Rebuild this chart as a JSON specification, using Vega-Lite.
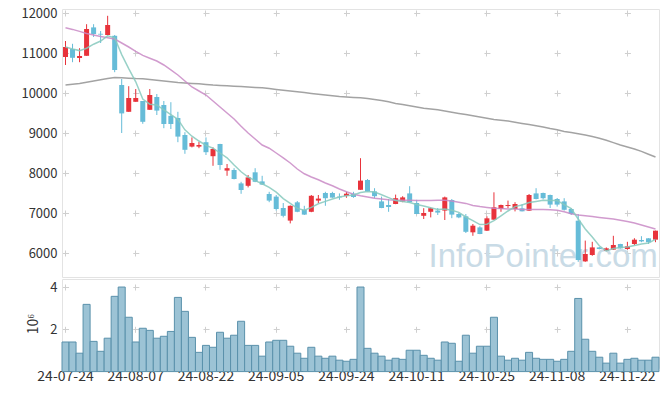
{
  "$schema": "https://vega.github.io/schema/vega-lite/v6.json",
  "padding": {"left": 5, "top": 6, "right": 7, "bottom": 5},
  "spacing": 0,
  "config": {
    "font": "Noto Sans CJK KR",
    "view": {"stroke": "#e3e3e3"},
    "axis": {"labelFont": "Noto Sans CJK KR", "labelColor": "#333333", "labelFontSize": 13, "domain": false, "ticks": false, "gridColor": "#cfcfcf", "gridWidth": 1}
  },
  "datasets": {
    "k": [
      {"d":"24-07-24","o":10900,"h":11300,"l":10700,"c":11150,"v":1.40,"m5":11150,"m20":11630,"m60":10200},
      {"d":"24-07-25","o":11100,"h":11230,"l":10770,"c":10880,"v":1.40,"m5":11100,"m20":11590,"m60":10220},
      {"d":"24-07-26","o":10875,"h":11120,"l":10770,"c":10925,"v":0.87,"m5":11060,"m20":11540,"m60":10240},
      {"d":"24-07-29","o":10930,"h":11720,"l":10930,"c":11600,"v":3.18,"m5":11120,"m20":11490,"m60":10270},
      {"d":"24-07-30","o":11640,"h":11720,"l":11400,"c":11475,"v":1.43,"m5":11220,"m20":11450,"m60":10300},
      {"d":"24-07-31","o":11480,"h":11550,"l":11250,"c":11460,"v":0.96,"m5":11300,"m20":11410,"m60":10330},
      {"d":"24-08-01","o":11450,"h":11930,"l":11440,"c":11700,"v":1.58,"m5":11430,"m20":11380,"m60":10360},
      {"d":"24-08-02","o":11430,"h":11450,"l":10520,"c":10575,"v":3.56,"m5":11380,"m20":11350,"m60":10390},
      {"d":"24-08-05","o":10200,"h":10350,"l":9000,"c":9490,"v":4.00,"m5":10960,"m20":11250,"m60":10380},
      {"d":"24-08-06","o":9530,"h":10170,"l":9530,"c":9875,"v":2.57,"m5":10610,"m20":11150,"m60":10370},
      {"d":"24-08-07","o":9780,"h":10100,"l":9780,"c":9875,"v":1.40,"m5":10280,"m20":11040,"m60":10360},
      {"d":"24-08-08","o":9800,"h":9800,"l":9230,"c":9280,"v":2.05,"m5":9850,"m20":10940,"m60":10355},
      {"d":"24-08-09","o":9580,"h":10100,"l":9580,"c":9950,"v":1.95,"m5":9720,"m20":10870,"m60":10340},
      {"d":"24-08-12","o":9900,"h":9975,"l":9450,"c":9560,"v":1.58,"m5":9700,"m20":10800,"m60":10320},
      {"d":"24-08-13","o":9700,"h":9800,"l":9120,"c":9225,"v":1.67,"m5":9580,"m20":10700,"m60":10300},
      {"d":"24-08-14","o":9430,"h":9770,"l":9100,"c":9225,"v":1.90,"m5":9460,"m20":10580,"m60":10280},
      {"d":"24-08-16","o":9375,"h":9530,"l":8770,"c":8910,"v":3.51,"m5":9340,"m20":10450,"m60":10260},
      {"d":"24-08-19","o":8950,"h":9020,"l":8480,"c":8580,"v":2.85,"m5":9080,"m20":10300,"m60":10250},
      {"d":"24-08-20","o":8660,"h":8890,"l":8640,"c":8750,"v":1.62,"m5":8920,"m20":10150,"m60":10240},
      {"d":"24-08-21","o":8660,"h":8780,"l":8620,"c":8700,"v":0.91,"m5":8800,"m20":10050,"m60":10230},
      {"d":"24-08-22","o":8770,"h":8890,"l":8450,"c":8520,"v":1.24,"m5":8690,"m20":9950,"m60":10215},
      {"d":"24-08-23","o":8420,"h":8640,"l":8180,"c":8600,"v":1.15,"m5":8620,"m20":9800,"m60":10200},
      {"d":"24-08-26","o":8725,"h":8730,"l":8080,"c":8200,"v":1.86,"m5":8500,"m20":9650,"m60":10190},
      {"d":"24-08-27","o":8060,"h":8225,"l":7930,"c":8120,"v":1.58,"m5":8380,"m20":9500,"m60":10180},
      {"d":"24-08-28","o":8075,"h":8120,"l":7840,"c":7850,"v":1.72,"m5":8200,"m20":9350,"m60":10170},
      {"d":"24-08-29","o":7740,"h":7780,"l":7480,"c":7575,"v":2.38,"m5":8030,"m20":9170,"m60":10160},
      {"d":"24-08-30","o":7680,"h":7950,"l":7640,"c":7890,"v":1.24,"m5":7900,"m20":9000,"m60":10150},
      {"d":"24-09-02","o":8017,"h":8120,"l":7770,"c":7780,"v":1.24,"m5":7810,"m20":8850,"m60":10140},
      {"d":"24-09-03","o":7790,"h":7930,"l":7700,"c":7710,"v":0.73,"m5":7730,"m20":8700,"m60":10130},
      {"d":"24-09-04","o":7475,"h":7530,"l":7270,"c":7310,"v":1.40,"m5":7640,"m20":8620,"m60":10110},
      {"d":"24-09-05","o":7410,"h":7450,"l":7060,"c":7100,"v":1.48,"m5":7520,"m20":8500,"m60":10090},
      {"d":"24-09-06","o":7125,"h":7250,"l":6890,"c":6930,"v":1.48,"m5":7360,"m20":8380,"m60":10070},
      {"d":"24-09-09","o":6810,"h":7190,"l":6740,"c":7180,"v":1.20,"m5":7240,"m20":8250,"m60":10050},
      {"d":"24-09-10","o":7267,"h":7300,"l":7020,"c":7030,"v":0.87,"m5":7115,"m20":8100,"m60":10030},
      {"d":"24-09-11","o":7080,"h":7180,"l":6950,"c":6960,"v":0.63,"m5":7070,"m20":7980,"m60":10010},
      {"d":"24-09-12","o":7030,"h":7450,"l":7020,"c":7430,"v":1.15,"m5":7140,"m20":7900,"m60":9990},
      {"d":"24-09-13","o":7310,"h":7450,"l":7250,"c":7360,"v":0.73,"m5":7230,"m20":7830,"m60":9970},
      {"d":"24-09-19","o":7500,"h":7530,"l":7180,"c":7370,"v":0.63,"m5":7290,"m20":7750,"m60":9950},
      {"d":"24-09-20","o":7500,"h":7530,"l":7380,"c":7385,"v":0.73,"m5":7350,"m20":7680,"m60":9930},
      {"d":"24-09-23","o":7410,"h":7490,"l":7330,"c":7390,"v":0.54,"m5":7400,"m20":7600,"m60":9910},
      {"d":"24-09-24","o":7425,"h":7530,"l":7380,"c":7483,"v":0.49,"m5":7430,"m20":7530,"m60":9900},
      {"d":"24-09-25","o":7483,"h":7530,"l":7380,"c":7400,"v":0.58,"m5":7450,"m20":7470,"m60":9890},
      {"d":"24-09-26","o":7580,"h":8370,"l":7580,"c":7810,"v":4.00,"m5":7510,"m20":7430,"m60":9880},
      {"d":"24-09-27","o":7825,"h":7850,"l":7540,"c":7540,"v":1.10,"m5":7540,"m20":7400,"m60":9860},
      {"d":"24-09-30","o":7540,"h":7620,"l":7375,"c":7420,"v":0.87,"m5":7525,"m20":7370,"m60":9840},
      {"d":"24-10-02","o":7290,"h":7410,"l":7120,"c":7125,"v":0.73,"m5":7455,"m20":7350,"m60":9810},
      {"d":"24-10-04","o":7200,"h":7350,"l":7030,"c":7150,"v":0.54,"m5":7385,"m20":7330,"m60":9780},
      {"d":"24-10-07","o":7225,"h":7460,"l":7220,"c":7370,"v":0.63,"m5":7315,"m20":7320,"m60":9740},
      {"d":"24-10-08","o":7285,"h":7420,"l":7270,"c":7390,"v":0.58,"m5":7285,"m20":7320,"m60":9710},
      {"d":"24-10-10","o":7490,"h":7670,"l":7260,"c":7270,"v":1.01,"m5":7260,"m20":7320,"m60":9680},
      {"d":"24-10-11","o":7250,"h":7330,"l":6970,"c":6975,"v":1.01,"m5":7215,"m20":7310,"m60":9650},
      {"d":"24-10-14","o":6930,"h":7120,"l":6850,"c":7000,"v":0.77,"m5":7175,"m20":7310,"m60":9620},
      {"d":"24-10-15","o":7030,"h":7140,"l":6890,"c":7120,"v":0.63,"m5":7130,"m20":7310,"m60":9600},
      {"d":"24-10-16","o":7060,"h":7125,"l":6950,"c":7010,"v":0.54,"m5":7090,"m20":7320,"m60":9580},
      {"d":"24-10-17","o":7060,"h":7410,"l":6825,"c":7390,"v":1.40,"m5":7100,"m20":7320,"m60":9550},
      {"d":"24-10-18","o":7325,"h":7350,"l":6870,"c":6960,"v":1.34,"m5":7070,"m20":7300,"m60":9520},
      {"d":"24-10-21","o":6975,"h":7000,"l":6870,"c":6890,"v":0.49,"m5":7015,"m20":7270,"m60":9490},
      {"d":"24-10-22","o":6917,"h":6975,"l":6500,"c":6530,"v":1.72,"m5":6900,"m20":7240,"m60":9460},
      {"d":"24-10-23","o":6517,"h":6725,"l":6430,"c":6683,"v":0.87,"m5":6810,"m20":7190,"m60":9430},
      {"d":"24-10-24","o":6640,"h":6670,"l":6470,"c":6475,"v":1.20,"m5":6710,"m20":7160,"m60":9400},
      {"d":"24-10-25","o":6558,"h":6917,"l":6550,"c":6867,"v":1.20,"m5":6720,"m20":7140,"m60":9370},
      {"d":"24-10-28","o":6833,"h":7517,"l":6830,"c":7142,"v":2.57,"m5":6810,"m20":7120,"m60":9340},
      {"d":"24-10-29","o":7100,"h":7210,"l":7030,"c":7200,"v":0.73,"m5":6930,"m20":7110,"m60":9320},
      {"d":"24-10-30","o":7175,"h":7310,"l":7120,"c":7200,"v":0.54,"m5":7050,"m20":7100,"m60":9300},
      {"d":"24-10-31","o":7100,"h":7270,"l":7040,"c":7225,"v":0.63,"m5":7160,"m20":7100,"m60":9270},
      {"d":"24-11-01","o":7117,"h":7225,"l":7040,"c":7042,"v":0.54,"m5":7200,"m20":7090,"m60":9240},
      {"d":"24-11-04","o":7058,"h":7475,"l":7050,"c":7450,"v":0.91,"m5":7260,"m20":7090,"m60":9210},
      {"d":"24-11-05","o":7490,"h":7620,"l":7340,"c":7350,"v":0.63,"m5":7290,"m20":7090,"m60":9180},
      {"d":"24-11-06","o":7500,"h":7510,"l":7340,"c":7370,"v":0.58,"m5":7320,"m20":7085,"m60":9150},
      {"d":"24-11-07","o":7450,"h":7460,"l":7125,"c":7210,"v":0.58,"m5":7310,"m20":7080,"m60":9110},
      {"d":"24-11-08","o":7350,"h":7375,"l":7160,"c":7210,"v":0.49,"m5":7310,"m20":7070,"m60":9080},
      {"d":"24-11-11","o":7290,"h":7370,"l":7060,"c":7080,"v":0.58,"m5":7210,"m20":7030,"m60":9040},
      {"d":"24-11-12","o":7100,"h":7120,"l":6950,"c":6975,"v":0.96,"m5":7110,"m20":6980,"m60":9010},
      {"d":"24-11-13","o":6808,"h":6975,"l":5780,"c":5825,"v":3.46,"m5":6850,"m20":6950,"m60":8980},
      {"d":"24-11-14","o":5790,"h":6310,"l":5780,"c":5975,"v":1.53,"m5":6600,"m20":6930,"m60":8950},
      {"d":"24-11-15","o":5950,"h":6280,"l":5930,"c":6140,"v":0.96,"m5":6400,"m20":6910,"m60":8910},
      {"d":"24-11-18","o":6140,"h":6150,"l":6090,"c":6100,"v":0.68,"m5":6180,"m20":6890,"m60":8870},
      {"d":"24-11-19","o":6060,"h":6140,"l":6050,"c":6117,"v":0.40,"m5":6050,"m20":6870,"m60":8820},
      {"d":"24-11-20","o":6083,"h":6430,"l":6080,"c":6200,"v":0.87,"m5":6110,"m20":6850,"m60":8760},
      {"d":"24-11-21","o":6225,"h":6230,"l":6110,"c":6117,"v":0.40,"m5":6135,"m20":6820,"m60":8700},
      {"d":"24-11-22","o":6100,"h":6280,"l":6080,"c":6167,"v":0.58,"m5":6150,"m20":6790,"m60":8650},
      {"d":"24-11-25","o":6225,"h":6370,"l":6200,"c":6333,"v":0.63,"m5":6190,"m20":6750,"m60":8600},
      {"d":"24-11-26","o":6325,"h":6420,"l":6270,"c":6290,"v":0.54,"m5":6225,"m20":6700,"m60":8540},
      {"d":"24-11-27","o":6367,"h":6370,"l":6225,"c":6270,"v":0.54,"m5":6250,"m20":6650,"m60":8470},
      {"d":"24-11-28","o":6333,"h":6560,"l":6270,"c":6558,"v":0.68,"m5":6340,"m20":6600,"m60":8400}
    ]
  },
  "vconcat": [
    {
      "width": 597,
      "height": 268,
      "data": {"name": "k"},
      "encoding": {
        "x": {
          "field": "d", "type": "ordinal",
          "scale": {"type": "band", "paddingInner": 0, "paddingOuter": 0},
          "axis": {"labels": false, "title": null, "grid": true, "bandPosition": 0.5, "gridDash": [6, 34], "gridDashOffset": 39, "minExtent": 0, "maxExtent": 0,
            "values": ["24-07-24","24-08-07","24-08-22","24-09-05","24-09-24","24-10-11","24-10-25","24-11-08","24-11-22"]}
        }
      },
      "layer": [
        {
          "data": {"values": [{"t": "InfoPointer.com"}]},
          "mark": {"type": "text", "font": "Liberation Sans", "fontSize": 33, "color": "#c9dbe6", "align": "center", "baseline": "alphabetic"},
          "encoding": {
            "text": {"field": "t"},
            "x": {"datum": "24-11-06"},
            "y": {"datum": 5640, "type": "quantitative", "scale": {"domain": [5400, 12100], "nice": false, "zero": false}}
          }
        },
        {
          "mark": {"type": "rule", "strokeWidth": 1},
          "encoding": {
            "y": {"field": "l", "type": "quantitative", "scale": {"domain": [5400, 12100], "nice": false, "zero": false},
              "axis": {"title": null, "values": [6000, 7000, 8000, 9000, 10000, 11000, 12000], "format": "d", "labelPadding": 5, "minExtent": 56, "maxExtent": 56,
                "grid": true, "gridDash": [6, 64.235], "gridDashOffset": 69.7}},
            "y2": {"field": "h"},
            "color": {"condition": {"test": "datum.c >= datum.o", "value": "#e8333b"}, "value": "#66bcd8"}
          }
        },
        {
          "mark": {"type": "bar", "width": 5},
          "encoding": {
            "y": {"field": "o", "type": "quantitative", "scale": {"domain": [5400, 12100], "nice": false, "zero": false}},
            "y2": {"field": "c"},
            "color": {"condition": {"test": "datum.c >= datum.o", "value": "#e8333b"}, "value": "#66bcd8"}
          }
        },
        {
          "mark": {"type": "line", "color": "#999999", "strokeWidth": 1.5, "opacity": 0.9},
          "encoding": {"y": {"field": "m60", "type": "quantitative", "scale": {"domain": [5400, 12100], "nice": false, "zero": false}}}
        },
        {
          "mark": {"type": "line", "color": "#c98ac6", "strokeWidth": 1.5, "opacity": 0.85},
          "encoding": {"y": {"field": "m20", "type": "quantitative", "scale": {"domain": [5400, 12100], "nice": false, "zero": false}}}
        },
        {
          "mark": {"type": "line", "color": "#86c9bd", "strokeWidth": 1.5, "opacity": 0.85},
          "encoding": {"y": {"field": "m5", "type": "quantitative", "scale": {"domain": [5400, 12100], "nice": false, "zero": false}}}
        }
      ]
    },
    {
      "width": 597,
      "height": 89,
      "data": {"name": "k"},
      "mark": {"type": "bar", "fill": "#9cc3d5", "stroke": "#5a91ab", "strokeWidth": 1},
      "encoding": {
        "x": {
          "field": "d", "type": "ordinal",
          "scale": {"type": "band", "paddingInner": 0, "paddingOuter": 0},
          "axis": {"title": null, "labelAngle": 0, "labelFontSize": 14, "labelPadding": 1, "grid": true, "bandPosition": 0.5, "gridDash": [6, 36.3], "gridDashOffset": 37.3,
            "values": ["24-07-24","24-08-07","24-08-22","24-09-05","24-09-24","24-10-11","24-10-25","24-11-08","24-11-22"]}
        },
        "y": {
          "field": "v", "type": "quantitative",
          "scale": {"domain": [0.17, 4.38], "nice": false, "zero": false},
          "axis": {"values": [2, 4], "title": "10⁶", "titleFontSize": 14, "titleFontWeight": "normal", "titleColor": "#333333", "titlePadding": 9, "labelPadding": 5,
            "grid": true, "gridDash": [6, 64.235], "gridDashOffset": 69.7}
        }
      }
    }
  ]
}
